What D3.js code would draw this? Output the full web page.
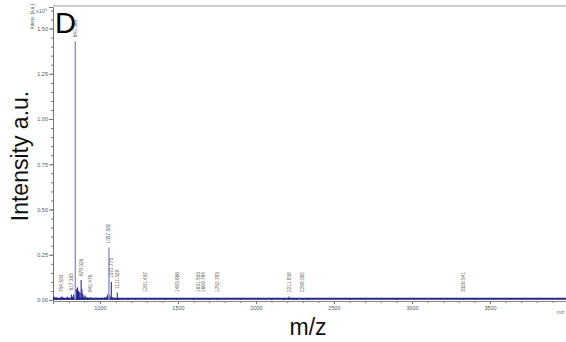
<!DOCTYPE html>
<html>
<head>
<meta charset="utf-8">
<script src="https://cdn.jsdelivr.net/npm/d3@7"></script>
<style>
  body { margin: 0; background: #fff; }
  svg { display: block; font-family: "Liberation Sans", Arial, sans-serif; }
  .tick text { fill: #555; }
</style>
</head>
<body>
<script>
// annotated peaks: m/z, intensity (x1e5)
var peakMz = [754.503, 817.383, 842.086, 879.326, 942.476, 1057.582, 1072.775, 1111.329,
              1291.457, 1493.886, 1631.553, 1660.784, 1752.793, 2211.939, 2299.092, 3328.541];
var peakInt = [0.02, 0.03, 1.43, 0.11, 0.015, 0.29, 0.1, 0.04,
               0.008, 0.008, 0.006, 0.006, 0.006, 0.02, 0.006, 0.004];
var peakLabel = ["754.503", "817.383", "842.086", "879.326", "942.476", "1057.582", "1072.775", "1111.329",
                 "1291.457", "1493.886", "1631.553", "1660.784", "1752.793", "2211.939", "2299.092", "3328.541"];
// small unlabelled peaks
var minorMz = [705, 712, 720, 731, 745, 762, 772, 790, 803, 826, 832, 851, 856, 862, 866, 872, 884, 890, 897,
               905, 918, 930, 955, 975, 990, 1010, 1030, 1044, 1050, 1064, 1080, 1095, 1120, 1140, 1180,
               1230, 1350, 1420, 1600, 1700, 1900, 2100, 2180, 2240, 2260, 2330, 2600, 2900];
var minorInt = [0.02, 0.012, 0.015, 0.01, 0.012, 0.015, 0.01, 0.018, 0.012, 0.02, 0.03, 0.06, 0.07, 0.05,
                0.045, 0.04, 0.06, 0.035, 0.02, 0.025, 0.015, 0.012, 0.01, 0.012, 0.01, 0.012, 0.015,
                0.02, 0.03, 0.025, 0.015, 0.012, 0.01, 0.008, 0.008, 0.006, 0.006, 0.006, 0.006, 0.006,
                0.006, 0.006, 0.008, 0.01, 0.008, 0.006, 0.006, 0.005];
var yTicks = [0, 0.25, 0.5, 0.75, 1.0, 1.25, 1.5];
var xTicks = [1000, 1500, 2000, 2500, 3000, 3500];

var width = 566, height = 342;
var svg = d3.select("body").append("svg")
  .attr("width", width)
  .attr("height", height);

var x = d3.scaleLinear().domain([699, 3987]).range([53, 566]);
var y = d3.scaleLinear().domain([0, 1.619]).range([300, 7]);

// top frame line
svg.append("line")
  .attr("x1", 53).attr("x2", width)
  .attr("y1", 6).attr("y2", 6)
  .style("stroke", "#cfcfcf").style("stroke-width", 2);

// minor ticks
svg.append("g")
  .attr("transform", "translate(53,0)")
  .call(d3.axisLeft(y).tickValues(d3.range(0, 1.61, 0.05)).tickSize(2).tickFormat(""))
  .call(g => g.select(".domain").remove())
  .selectAll("line").style("stroke", "#777");

svg.append("g")
  .attr("transform", "translate(0,301)")
  .call(d3.axisBottom(x).tickValues(d3.range(700, 3990, 100)).tickSize(2).tickFormat(""))
  .call(g => g.select(".domain").remove())
  .selectAll("line").style("stroke", "#777");

// main axes
var yAxis = svg.append("g")
  .attr("transform", "translate(53,0)")
  .call(d3.axisLeft(y).tickValues(yTicks).tickSize(4).tickPadding(1).tickFormat(d3.format(".2f")));
yAxis.selectAll("text").style("font-size", "5.5px");
yAxis.select(".domain").style("stroke", "#777");
yAxis.selectAll("line").style("stroke", "#777");

var xAxis = svg.append("g")
  .attr("transform", "translate(0,301)")
  .call(d3.axisBottom(x).tickValues(xTicks).tickSize(3).tickPadding(2).tickFormat(d3.format("d")));
xAxis.selectAll("text").style("font-size", "5.5px");
xAxis.select(".domain").style("stroke", "#888").style("stroke-width", 1.2);
xAxis.selectAll("line").style("stroke", "#777");

// baseline noise band
svg.append("line")
  .attr("x1", x(699)).attr("x2", width)
  .attr("y1", y(0.007)).attr("y2", y(0.007))
  .style("stroke", "#26268c").style("stroke-width", 2.2);

// minor peaks
svg.selectAll("line.minor")
  .data(minorMz)
  .enter()
  .append("line")
  .attr("class", "minor")
  .attr("x1", d => x(d)).attr("x2", d => x(d))
  .attr("y1", y(0))
  .attr("y2", (d, i) => y(minorInt[i]))
  .style("stroke", "#22228a").style("stroke-width", 1.2);

// labelled peaks
svg.selectAll("line.peak")
  .data(peakMz)
  .enter()
  .append("line")
  .attr("class", "peak")
  .attr("x1", d => x(d)).attr("x2", d => x(d))
  .attr("y1", y(0))
  .attr("y2", (d, i) => y(peakInt[i]))
  .style("stroke", (d, i) => peakInt[i] > 0.2 ? "#8f8fd6" : "#2a2a96")
  .style("stroke-width", (d, i) => peakInt[i] > 0.2 ? 1.4 : 1.1);

svg.selectAll("text.plabel")
  .data(peakMz)
  .enter()
  .append("text")
  .attr("class", "plabel")
  .attr("transform", (d, i) => {
    var ly = Math.min(y(peakInt[i]) - 4, 292);
    return "translate(" + (x(d) + 1.5) + "," + ly + ") rotate(-90)";
  })
  .style("font-size", "4.8px")
  .style("fill", "#666")
  .text((d, i) => peakLabel[i]);

// panel letter
svg.append("text")
  .attr("x", 55).attr("y", 33)
  .style("font-size", "29px")
  .style("fill", "#000")
  .text("D");

// small axis title and exponent
svg.append("text")
  .attr("transform", "translate(34,29) rotate(-90)")
  .style("font-size", "4.5px").style("fill", "#666")
  .text("Intens. [a.u.]");
var ex = svg.append("text")
  .attr("x", 36).attr("y", 13)
  .style("font-size", "5.5px").style("fill", "#666")
  .text("x10");
ex.append("tspan").attr("dy", -2.5).style("font-size", "4px").text("5");

svg.append("text")
  .attr("x", 557).attr("y", 314)
  .style("font-size", "4.5px").style("fill", "#666")
  .text("m/z");

// big axis titles
svg.append("text")
  .attr("transform", "translate(28,156) rotate(-90)")
  .style("text-anchor", "middle")
  .style("font-size", "23px")
  .style("fill", "#111")
  .text("Intensity a.u.");

svg.append("text")
  .attr("x", 308).attr("y", 335)
  .style("text-anchor", "middle")
  .style("font-size", "23px")
  .style("fill", "#111")
  .text("m/z");
</script>
</body>
</html>
